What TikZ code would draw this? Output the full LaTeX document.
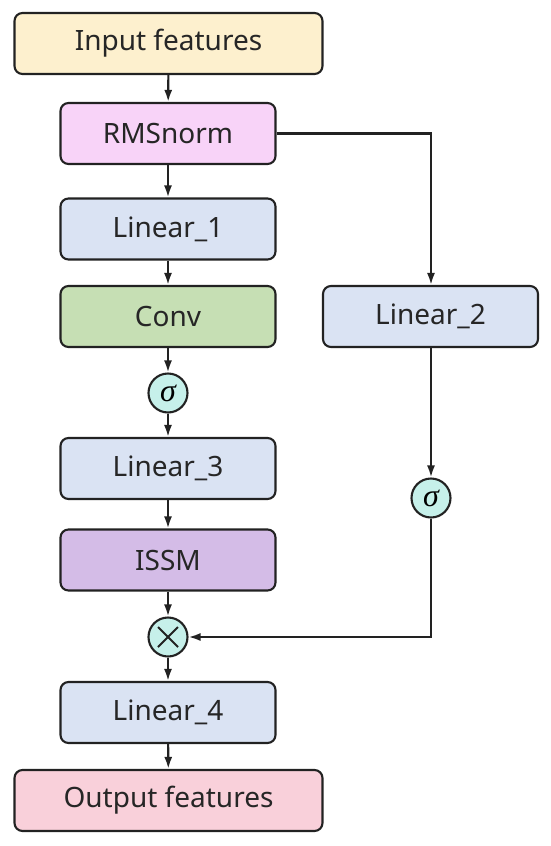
\documentclass[tikz,border=0pt]{standalone}
\usepackage{fontspec}
\setmainfont{Noto Sans}
\newfontfamily\sigfont{Liberation Serif}
\usetikzlibrary{arrows.meta,calc}
\definecolor{cin}{HTML}{FDF0CE}
\definecolor{crms}{HTML}{F8D3F8}
\definecolor{clin}{HTML}{DAE3F3}
\definecolor{cconv}{HTML}{C6DFB4}
\definecolor{cissm}{HTML}{D4BCE7}
\definecolor{cout}{HTML}{F9D0DA}
\definecolor{ccirc}{HTML}{C6F0EA}
\definecolor{cline}{HTML}{222222}
\tikzset{
  blk/.style={draw=cline, line width=2.1pt, rounded corners=8pt, minimum height=61pt,
    minimum width=215pt, inner sep=0pt, font=\fontsize{28}{32}\selectfont, text=black!85},
  wide/.style={blk, minimum width=308pt},
  circ/.style={circle, draw=cline, line width=2.1pt, fill=ccirc, minimum size=39pt, inner sep=0pt},
  sig/.style={circ, font=\sigfont\itshape\fontsize{32}{34}\selectfont},
  arr/.style={draw=cline, line width=2.1pt, -{Latex[length=12pt,width=8pt]}}
}
\begin{document}
\begin{tikzpicture}[x=1pt,y=-1pt]
\useasboundingbox (0,0) rectangle (550,846);
\node[wide, fill=cin] (in) at (168.5,43.5) {Input features};
\node[blk, fill=crms] (rms) at (168,133.5) {RMSnorm};
\node[blk, fill=clin] (l1) at (168,229) {Linear\_1};
\node[blk, fill=cconv] (conv) at (168,316.5) {Conv};
\node[sig] (s1) at (168,393) {σ};
\node[blk, fill=clin] (l3) at (168,468.5) {Linear\_3};
\node[blk, fill=cissm] (issm) at (168,560) {ISSM};
\node[circ] (mul) at (168,637) {};
\draw[cline, line width=2.1pt] ($(mul.center)+(-10,-10)$) -- ($(mul.center)+(10,10)$);
\draw[cline, line width=2.1pt] ($(mul.center)+(-10,10)$) -- ($(mul.center)+(10,-10)$);
\node[blk, fill=clin] (l4) at (168,712.5) {Linear\_4};
\node[wide, fill=cout] (out) at (168.5,800.5) {Output features};
\node[blk, fill=clin] (l2) at (430.5,316.5) {Linear\_2};
\node[sig] (s2) at (431,498) {σ};
\coordinate (c1) at (431,133.5);
\coordinate (c2) at (431,637);
\draw[arr] (in) -- (rms);
\draw[arr] (rms) -- (l1);
\draw[arr] (l1) -- (conv);
\draw[arr] (conv) -- (s1);
\draw[arr] (s1) -- (l3);
\draw[arr] (l3) -- (issm);
\draw[arr] (issm) -- (mul);
\draw[arr] (mul) -- (l4);
\draw[arr] (l4) -- (out);
\draw[arr] (rms.east) -- (c1) -- (l2.north -| c1);
\draw[arr] (l2.south -| s2) -- (s2);
\draw[arr] (s2) -- (c2) -- (mul.east);
\end{tikzpicture}
\end{document}
